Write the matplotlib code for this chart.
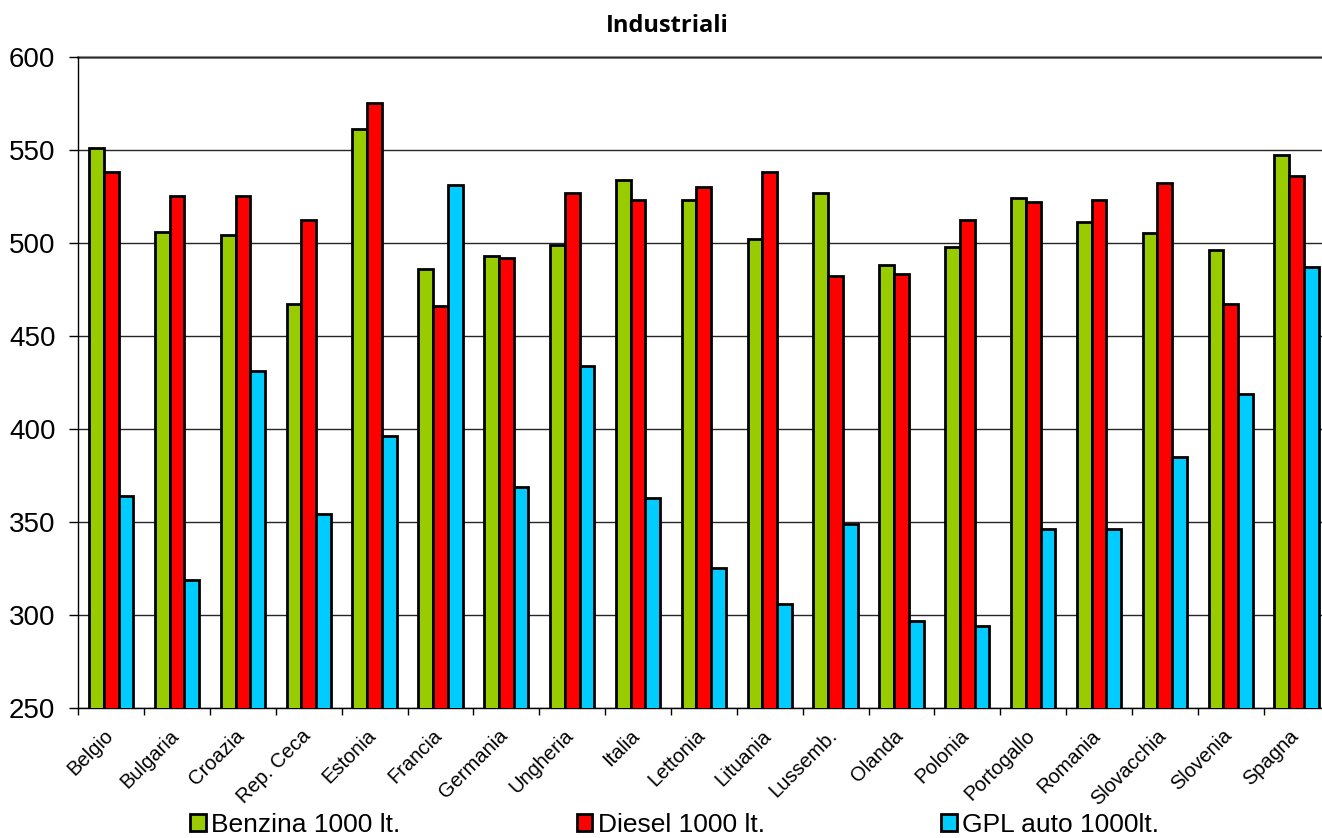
import matplotlib
matplotlib.use("Agg")
import matplotlib.pyplot as plt
import matplotlib.transforms as mtransforms
import numpy as np
from matplotlib.ticker import MultipleLocator, FixedLocator

countries = ["Belgio", "Bulgaria", "Croazia", "Rep. Ceca", "Estonia", "Francia",
             "Germania", "Ungheria", "Italia", "Lettonia", "Lituania", "Lussemb.",
             "Olanda", "Polonia", "Portogallo", "Romania", "Slovacchia", "Slovenia",
             "Spagna"]
benzina = [551, 506, 504, 467, 561, 486, 493, 499, 534, 523, 502, 527, 488, 498,
           524, 511, 505, 496, 547]
diesel = [538, 525, 525, 512, 575, 466, 492, 527, 523, 530, 538, 482, 483, 512,
          522, 523, 532, 467, 536]
gpl = [364, 319, 431, 354, 396, 531, 369, 434, 363, 325, 306, 349, 297, 294,
       346, 346, 385, 419, 487]
series_names = ["Benzina 1000 lt.", "Diesel 1000 lt.", "GPL auto 1000lt."]
colors = ["#99CC00", "#FF0000", "#00CCFF"]

plt.rcParams['font.family'] = ['Liberation Sans', 'DejaVu Sans']

W, H = 1322, 838
fig = plt.figure(figsize=(W / 100, H / 100), dpi=100)
left = 78.3 / W
width = 19 * 65.85 / W
bottom = 1 - 708 / H
top = 1 - 56.7 / H
ax = fig.add_axes([left, bottom, width, top - bottom])

x = np.arange(len(countries))
bw = 0.224
for i, (vals, c, name) in enumerate(zip([benzina, diesel, gpl], colors, series_names)):
    ax.bar(x + (i - 1) * bw, vals, width=bw, color=c, edgecolor="black",
           linewidth=2.0, label=name, zorder=3)

ax.set_xlim(-0.5, len(countries) - 0.5)
ax.set_ylim(250, 600)
ax.yaxis.set_major_locator(MultipleLocator(50))
ax.grid(axis="y", color="#262626", linewidth=1.0, zorder=0)
ax.axhline(600, color="#8c8c8c", linewidth=2.2, zorder=1, clip_on=False)

for s in ["top", "right"]:
    ax.spines[s].set_visible(False)
ax.spines["left"].set_color("black")
ax.spines["bottom"].set_color("black")
ax.spines["left"].set_linewidth(1.0)
ax.spines["bottom"].set_linewidth(1.0)

ax.set_xticks(x)
ax.set_xticklabels(countries, rotation=45, ha="right", va="top",
                   rotation_mode="anchor", fontsize=14.5)
ax.tick_params(axis="x", which="major", length=0, pad=13)
offset = mtransforms.ScaledTranslation(-8 / 100, 0, fig.dpi_scale_trans)
for lab in ax.get_xticklabels():
    lab.set_transform(lab.get_transform() + offset)
ax.xaxis.set_minor_locator(FixedLocator(np.arange(-0.5, len(countries), 1.0)))
ax.tick_params(axis="x", which="minor", length=5, width=1, direction="out", color="black")
ax.tick_params(axis="y", which="major", length=6.5, width=1, direction="out",
               labelsize=20, pad=10)

fig.text(667 / W, 1 - 26 / H, "Industriali", ha="center", va="center",
         fontsize=17, fontweight="bold", family=["Open Sans", "DejaVu Sans"])

leg = fig.legend(loc="center left", bbox_to_anchor=(190 / W, 1 - 825 / H),
                 ncol=3, frameon=False, fontsize=19, handlelength=0.6,
                 handleheight=0.6, handletextpad=0.2, columnspacing=6.68,
                 borderpad=0, borderaxespad=0)

fig.savefig("out.png", dpi=100)
